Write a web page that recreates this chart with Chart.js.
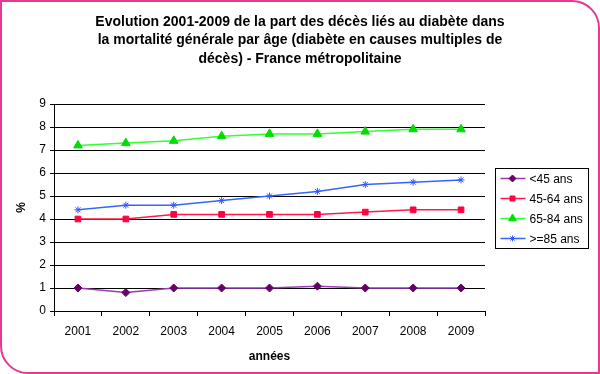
<!DOCTYPE html>
<html>
<head>
<meta charset="utf-8">
<script src="https://cdn.jsdelivr.net/npm/chart.js@4"></script>
<style>
  html, body { margin: 0; padding: 0; background: #fff; }
  #frame {
    position: absolute; left: 0; top: 0; width: 596px; height: 370px;
    border: 2px solid #e8388f; border-radius: 0 28px 0 28px; overflow: hidden;
  }
  canvas { position: absolute; left: -2px; top: -2px; }
</style>
</head>
<body>
<div id="frame"><canvas id="c" width="600" height="374"></canvas></div>
<script>
// Data
const years = ['2001', '2002', '2003', '2004', '2005', '2006', '2007', '2008', '2009'];
const under45 = [1.0, 0.8, 1.0, 1.0, 1.0, 1.08, 1.0, 1.0, 1.0];
const age45to64 = [4.0, 4.0, 4.2, 4.2, 4.2, 4.2, 4.3, 4.4, 4.4];
const age65to84 = [7.2, 7.3, 7.4, 7.6, 7.7, 7.7, 7.8, 7.9, 7.9];
const over85 = [4.4, 4.6, 4.6, 4.8, 5.0, 5.2, 5.5, 5.6, 5.7];
const seriesLabels = ['<45 ans', '45-64 ans', '65-84 ans', '>=85 ans'];
const titleLines = [
    'Evolution 2001-2009 de la part des décès liés au diabète dans',
    'la mortalité générale par âge (diabète en causes multiples de',
    'décès) - France métropolitaine'
];

const FONT = "'Liberation Sans', Arial, sans-serif";
Chart.defaults.font.family = FONT;
Chart.defaults.color = '#000';

// Title drawn above the plot
const titlePlugin = {
    id: 'titleLines',
    afterDraw(chart) {
        const ctx = chart.ctx;
        ctx.save();
        ctx.font = 'bold 14px ' + FONT;
        ctx.fillStyle = '#000';
        ctx.textAlign = 'center';
        ctx.textBaseline = 'middle';
        titleLines.forEach((t, i) => ctx.fillText(t, 300, 22 + i * 18.5));
        ctx.restore();
    }
};

// Boxed legend on the right, line + marker samples
const boxLegend = {
    id: 'boxLegend',
    afterDraw(chart) {
        const ctx = chart.ctx;
        const x0 = 495.5, y0 = 168.5, w = 93, h = 80;
        ctx.save();
        ctx.strokeStyle = '#000';
        ctx.lineWidth = 1;
        ctx.strokeRect(x0, y0, w, h);
        ctx.font = '12px ' + FONT;
        ctx.textBaseline = 'middle';
        chart.data.datasets.forEach((ds, i) => {
            const y = y0 + 10 + i * 20;
            ctx.strokeStyle = ds.borderColor;
            ctx.lineWidth = 1.5;
            ctx.beginPath();
            ctx.moveTo(x0 + 5, y);
            ctx.lineTo(x0 + 30, y);
            ctx.stroke();
            ctx.fillStyle = ds.pointBackgroundColor;
            ctx.strokeStyle = ds.pointBorderColor;
            ctx.lineWidth = 1;
            Chart.helpers.drawPoint(ctx, { pointStyle: ds.pointStyle, radius: ds.pointRadius - 0.5, rotation: 0, borderWidth: 1 }, x0 + 17, y);
            ctx.fillStyle = '#000';
            ctx.fillText(ds.label, x0 + 34, y + 1);
        });
        ctx.restore();
    }
};

function series(label, data, line, mark, style, radius) {
    return {
        label, data,
        borderColor: line, borderWidth: 1.5,
        pointStyle: style, pointRadius: radius, pointHoverRadius: radius,
        pointBackgroundColor: mark, pointBorderColor: mark, pointBorderWidth: 1,
        tension: 0
    };
}

new Chart(document.getElementById('c'), {
    type: 'line',
    data: {
        labels: years,
        datasets: [
            series(seriesLabels[0], under45, '#9a3cb4', '#660066', 'rectRot', 4),
            series(seriesLabels[1], age45to64, '#ff1a4a', '#ff0040', 'rect', 4),
            series(seriesLabels[2], age65to84, '#33ff33', '#00dd00', 'triangle', 5),
            series(seriesLabels[3], over85, '#3366ff', '#3355ff', 'star', 3.5)
        ]
    },
    options: {
        responsive: false,
        animation: false,
        layout: { padding: { top: 104, right: 115, left: 14, bottom: 10 } },
        plugins: { legend: { display: false }, title: { display: false }, tooltip: { enabled: false } },
        scales: {
            x: {
                offset: true,
                grid: { offset: true, drawOnChartArea: false, drawTicks: true, tickLength: 5, color: '#000' },
                border: { color: '#000', width: 1 },
                ticks: { font: { size: 12 }, color: '#000', padding: 8, maxRotation: 0 },
                title: { display: true, text: 'années', font: { size: 12, weight: 'bold' }, color: '#000', padding: 0 },
                afterFit: s => { s.height = 53; }
            },
            y: {
                min: 0, max: 9,
                grid: { color: '#000', lineWidth: 1, tickLength: 4 },
                border: { color: '#000', width: 1 },
                ticks: { stepSize: 1, font: { size: 12 }, color: '#000', padding: 4 },
                title: { display: true, text: '%', font: { size: 12, weight: 'bold' }, color: '#000', padding: 0 },
                afterFit: s => { s.width = 40; }
            }
        }
    },
    plugins: [titlePlugin, boxLegend]
});
</script>
</body>
</html>
